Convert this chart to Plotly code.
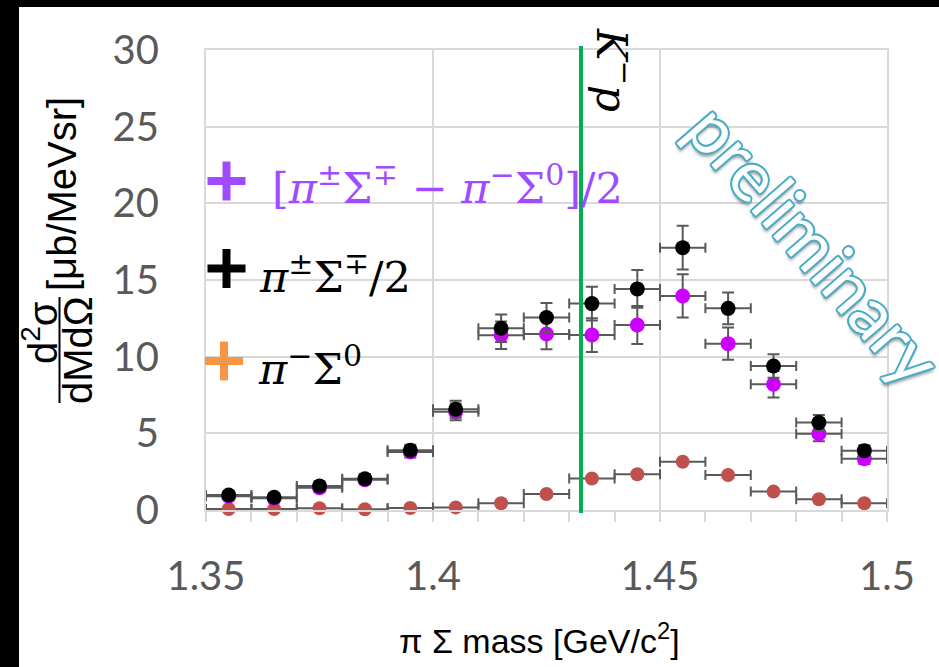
import plotly.graph_objects as go

# pi Sigma invariant-mass bins (bin centres, GeV/c^2) and half bin width
mass = [1.355, 1.365, 1.375, 1.385, 1.395, 1.405, 1.415, 1.425,
        1.435, 1.445, 1.455, 1.465, 1.475, 1.485, 1.495]
mass_half_width = [0.005, 0.005, 0.005, 0.005, 0.005, 0.005, 0.005, 0.005,
                   0.005, 0.005, 0.005, 0.005, 0.005, 0.005, 0.005]

# pi+- Sigma-+ / 2
charged_half = [0.98, 0.83, 1.57, 2.04, 3.90, 6.57, 11.85, 12.55,
                13.46, 14.42, 17.11, 13.15, 9.39, 5.70, 3.87]
charged_half_err = [0.25, 0.25, 0.30, 0.30, 0.35, 0.55, 0.90, 0.95,
                    1.10, 1.23, 1.42, 1.04, 0.76, 0.50, 0.35]

# [pi+- Sigma-+ - pi- Sigma0] / 2
difference = [0.90, 0.76, 1.45, 1.98, 3.78, 6.40, 11.40, 11.48,
              11.41, 12.07, 13.96, 10.85, 8.20, 4.98, 3.35]
difference_err = [0.25, 0.25, 0.30, 0.30, 0.35, 0.55, 0.90, 1.00,
                  1.10, 1.24, 1.41, 1.05, 0.87, 0.50, 0.35]

# pi- Sigma0
neutral = [0.07, 0.06, 0.11, 0.05, 0.13, 0.17, 0.44, 1.04,
           2.05, 2.33, 3.15, 2.28, 1.20, 0.70, 0.44]

# K- p threshold
kp_threshold = 1.4326

x_tick_vals = [1.35, 1.4, 1.45, 1.5]
x_tick_text = ["1.35", "1.4", "1.45", "1.5"]
y_tick_vals = [0, 5, 10, 15, 20, 25, 30]

# plot-area geometry in pixels
W_FIG, H_FIG = 939, 667
L, R, T, B = 206, 887, 50, 510


def px(X):
    return (X - L) / (R - L)


def py(Y):
    return (B - Y) / (B - T)


ERR_COLOR = "#595959"
GRID = "#D9D9D9"

fig = go.Figure()

fig.add_trace(go.Scatter(
    x=mass, y=neutral, mode="markers", cliponaxis=False,
    marker=dict(color="#C0504D", size=14),
    error_x=dict(type="data", array=mass_half_width, color=ERR_COLOR,
                 thickness=2, width=5),
    showlegend=False))

fig.add_trace(go.Scatter(
    x=mass, y=difference, mode="markers", cliponaxis=False,
    marker=dict(color="#CC00FF", size=15),
    error_x=dict(type="data", array=mass_half_width, color=ERR_COLOR,
                 thickness=2, width=5),
    error_y=dict(type="data", array=difference_err, color=ERR_COLOR,
                 thickness=2, width=6),
    showlegend=False))

fig.add_trace(go.Scatter(
    x=mass, y=charged_half, mode="markers", cliponaxis=False,
    marker=dict(color="#000000", size=15),
    error_x=dict(type="data", array=mass_half_width, color=ERR_COLOR,
                 thickness=2, width=5),
    error_y=dict(type="data", array=charged_half_err, color=ERR_COLOR,
                 thickness=2, width=6),
    showlegend=False))

shapes = []

# threshold line
shapes.append(dict(type="line", xref="x", yref="paper",
                   x0=kp_threshold, x1=kp_threshold,
                   y0=py(513), y1=py(46),
                   line=dict(color="#00B050", width=4), layer="above"))

# legend crosses
for cx, cy, col in [(226.5, 181, "#9F4BFF"), (226.5, 268.5, "#000000"),
                    (224, 361, "#F79646")]:
    shapes.append(dict(type="line", xref="paper", yref="paper",
                       x0=px(cx - 19), x1=px(cx + 19), y0=py(cy), y1=py(cy),
                       line=dict(color=col, width=8), layer="above"))
    shapes.append(dict(type="line", xref="paper", yref="paper",
                       x0=px(cx), x1=px(cx), y0=py(cy - 19.5), y1=py(cy + 19.5),
                       line=dict(color=col, width=8), layer="above"))

# fraction bar of the y-axis title
shapes.append(dict(type="line", xref="paper", yref="paper",
                   x0=px(59.5), x1=px(59.5), y0=py(297), y1=py(403),
                   line=dict(color="#000000", width=2), layer="above"))

# dark frame on the top and left edges
shapes.append(dict(type="rect", xref="paper", yref="paper",
                   x0=px(0), x1=px(19), y0=py(W_FIG), y1=py(0),
                   fillcolor="#000000", line=dict(width=0), layer="above"))
shapes.append(dict(type="rect", xref="paper", yref="paper",
                   x0=px(0), x1=px(W_FIG), y0=py(7), y1=py(0),
                   fillcolor="#000000", line=dict(width=0), layer="above"))

MATH = "DejaVu Serif"
annotations = [
    dict(x=px(270), y=py(185), xanchor="left", yanchor="middle",
         text="[<i>π</i><sup>±</sup>Σ<sup>∓</sup> − <i>π</i><sup>−</sup>Σ<sup>0</sup>]/2",
         font=dict(family=MATH, size=43, color="#9F4BFF")),
    dict(x=px(257), y=py(274), xanchor="left", yanchor="middle",
         text="<i>π</i><sup>±</sup>Σ<sup>∓</sup>/2",
         font=dict(family=MATH, size=43, color="#000000")),
    dict(x=px(256), y=py(366), xanchor="left", yanchor="middle",
         text="<i>π</i><sup>−</sup>Σ<sup>0</sup>",
         font=dict(family=MATH, size=43, color="#000000")),
    dict(x=px(614), y=py(70), xanchor="center", yanchor="middle",
         text="<i>K</i><sup>−</sup><i>p</i>", textangle=90,
         font=dict(family=MATH, size=42, color="#000000")),
    dict(x=px(815), y=py(243), xanchor="center", yanchor="middle",
         text="preliminary", textangle=49,
         font=dict(family="Lato", size=70, color="#FFFFFF",
                   shadow=("2px 0 0 #4BACC6, -2px 0 0 #4BACC6, 0 2px 0 #4BACC6, "
                           "0 -2px 0 #4BACC6, 1.5px 1.5px 0 #4BACC6, "
                           "-1.5px 1.5px 0 #4BACC6, 1.5px -1.5px 0 #4BACC6, "
                           "-1.5px -1.5px 0 #4BACC6, 3px 3px 3px rgba(0,0,0,0.35)"))),
    # x-axis title
    dict(x=px(539), y=py(638), xanchor="center", yanchor="middle",
         text="π Σ mass [GeV/c<sup>2</sup>]",
         font=dict(family="Liberation Sans", size=34, color="#000000")),
    # y-axis title: fraction and units
    dict(x=px(40), y=py(333), xanchor="center", yanchor="middle",
         text="d<sup>2</sup>σ", textangle=-90,
         font=dict(family="Liberation Sans", size=40, color="#000000")),
    dict(x=px(78), y=py(350), xanchor="center", yanchor="middle",
         text="dMdΩ", textangle=-90,
         font=dict(family="Liberation Sans", size=40, color="#000000")),
    dict(x=px(62), y=py(194), xanchor="center", yanchor="middle",
         text="[μb/MeVsr]", textangle=-90,
         font=dict(family="Liberation Sans", size=40, color="#000000")),
]
for a in annotations:
    a.update(xref="paper", yref="paper", showarrow=False)

fig.update_layout(
    width=W_FIG, height=H_FIG, autosize=False,
    margin=dict(l=L, r=W_FIG - R, t=T, b=H_FIG - B, pad=0),
    paper_bgcolor="#FFFFFF", plot_bgcolor="#FFFFFF",
    shapes=shapes, annotations=annotations,
    xaxis=dict(range=[1.35, 1.5], tickvals=x_tick_vals, ticktext=x_tick_text,
               showgrid=True, gridcolor=GRID, gridwidth=2, zeroline=False,
               showline=True, linecolor=GRID, linewidth=2, mirror=True,
               ticks="outside", ticklen=10, tickwidth=2, tickcolor=GRID,
               minor=dict(dtick=0.01, tick0=1.35, ticks="outside", ticklen=10,
                          tickwidth=2, tickcolor=GRID, showgrid=False),
               ticklabelstandoff=20,
               tickfont=dict(family="Lato", size=40, color="#595959")),
    yaxis=dict(range=[0, 30], tickvals=y_tick_vals,
               showgrid=True, gridcolor=GRID, gridwidth=2, zeroline=False,
               showline=True, linecolor=GRID, linewidth=2, mirror=True,
               ticks="", ticklabelstandoff=37,
               tickfont=dict(family="Lato", size=40, color="#595959")),
)

fig.write_html("out.html")
